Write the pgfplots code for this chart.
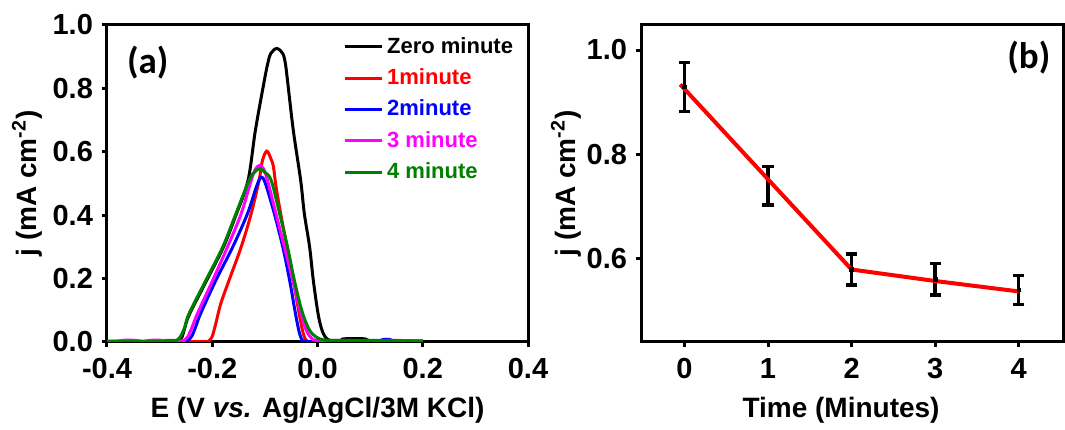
\documentclass[border=0pt]{standalone}
\usepackage{pgfplots}
\pgfplotsset{compat=1.18}
\usepackage{fontspec}
\setmainfont{Liberation Sans}
\newfontfamily\carlito{Carlito}
\definecolor{dgreen}{RGB}{0,128,0}
\definecolor{mag}{RGB}{255,0,255}
\begin{document}
\begin{tikzpicture}
\path (0,0) rectangle (532.5pt,210.5pt);
\pgfplotsset{
  every axis/.append style={
    scale only axis,
    axis line style={line width=1.5pt},
    tick pos=left, tick align=outside,
    major tick length=2.5pt,
    every tick/.style={line width=1.5pt, black},
    /pgf/number format/assume math mode=true,
    tick label style={font=\fontsize{14.5}{16}\selectfont\bfseries},
    xticklabel style={yshift=-2pt},
    yticklabel style={xshift=-1pt},
  }
}
% ---------------- panel (a)
\begin{axis}[
  at={(53.5pt,39.5pt)}, anchor=south west,
  width=210.5pt, height=158.5pt,
  xmin=-0.4, xmax=0.4, ymin=0, ymax=1.0,
  xtick={-0.4,-0.2,0,0.2,0.4}, ytick={0,0.2,0.4,0.6,0.8,1.0},
  xticklabel style={/pgf/number format/.cd, fixed, fixed zerofill, precision=1},
  yticklabel style={/pgf/number format/.cd, fixed, fixed zerofill, precision=1},
  xlabel={E (V \textit{vs.} Ag/AgCl/3M KCl)},
  ylabel={j (mA cm\textsuperscript{-2})},
  every axis x label/.style={at={(axis description cs:0.5,-0.2145)}, anchor=center, font=\fontsize{14}{16}\selectfont\bfseries},
  every axis y label/.style={at={(axis description cs:-0.19,0.5)}, anchor=center, rotate=90, font=\fontsize{14}{16}\selectfont\bfseries},
  legend cell align=left,
  legend style={draw=none, fill=none, at={(0.56,0.975)}, anchor=north west,
    font=\fontsize{11}{13}\selectfont\bfseries, inner sep=0pt,
    row sep=2.2pt},
  legend image code/.code={\draw[#1, line width=1.5pt] (0pt,0pt) -- (18.5pt,0pt);},
  every axis plot/.append style={line width=1.5pt, smooth, tension=0.55, mark=none},
]
\addplot[black] coordinates {
(-0.400,0.002) (-0.350,0.002) (-0.300,0.002) (-0.275,0.002) (-0.266,0.004)
(-0.258,0.014) (-0.252,0.045) (-0.244,0.085) (-0.212,0.190) (-0.180,0.295) (-0.155,0.400) (-0.132,0.510)
(-0.118,0.668) (-0.101,0.825) (-0.0946,0.878) (-0.0888,0.910) (-0.0775,0.926)
(-0.066,0.910) (-0.061,0.878) (-0.057,0.825) (-0.046,0.668) (-0.032,0.510)
(-0.025,0.405) (-0.015,0.300) (-0.008,0.195) (0.001,0.090) (0.008,0.040)
(0.015,0.015) (0.022,0.006) (0.030,0.004) (0.045,0.005) (0.050,0.010)
(0.090,0.010) (0.100,0.004) (0.150,0.003) (0.200,0.002)};
\addlegendentry{Zero minute}
\addplot[red] coordinates {
(-0.400,0.001) (-0.300,0.001) (-0.290,0.005) (-0.270,0.005) (-0.250,0.002)
(-0.212,0.001) (-0.206,0.004) (-0.200,0.018) (-0.193,0.060) (-0.184,0.120) (-0.168,0.195)
(-0.145,0.300) (-0.126,0.405) (-0.111,0.510) (-0.105,0.570) (-0.0966,0.602)
(-0.089,0.580) (-0.0838,0.553) (-0.0787,0.489) (-0.070,0.405) (-0.058,0.300)
(-0.046,0.195) (-0.036,0.100) (-0.029,0.040) (-0.024,0.012) (-0.018,0.002) (0.000,0.001)
(0.100,0.001) (0.200,0.001)};
\addlegendentry{\textcolor{red}{1minute}}
\addplot[blue] coordinates {
(-0.400,0.002) (-0.380,0.002) (-0.300,0.001) (-0.255,0.001) (-0.247,0.004)
(-0.239,0.018) (-0.231,0.050) (-0.222,0.090) (-0.193,0.195) (-0.161,0.300) (-0.133,0.405)
(-0.116,0.490) (-0.107,0.520) (-0.099,0.500) (-0.082,0.405) (-0.066,0.300)
(-0.053,0.195) (-0.043,0.100) (-0.036,0.040) (-0.031,0.012) (-0.025,0.002) (0.000,0.001)
(0.060,0.002) (0.110,0.002) (0.125,0.008) (0.137,0.008) (0.150,0.002)
(0.190,0.002) (0.200,0.004)};
\addlegendentry{\textcolor{blue}{2minute}}
\addplot[mag] coordinates {
(-0.400,0.002) (-0.380,0.003) (-0.365,0.006) (-0.345,0.005) (-0.330,0.002)
(-0.320,0.005) (-0.300,0.006) (-0.285,0.002) (-0.262,0.002) (-0.254,0.005)
(-0.246,0.018) (-0.238,0.048) (-0.228,0.090) (-0.199,0.195) (-0.171,0.300) (-0.145,0.405)
(-0.126,0.510) (-0.118,0.545) (-0.110,0.557) (-0.102,0.545) (-0.095,0.510)
(-0.079,0.405) (-0.063,0.300) (-0.047,0.195) (-0.033,0.100) (-0.022,0.040)
(-0.012,0.013) (0.000,0.005) (0.050,0.005) (0.100,0.004) (0.150,0.005)
(0.200,0.003)};
\addlegendentry{\textcolor{mag}{3 minute}}
\addplot[dgreen] coordinates {
(-0.400,0.001) (-0.300,0.001) (-0.278,0.002) (-0.268,0.005) (-0.260,0.018)
(-0.252,0.048) (-0.244,0.090) (-0.212,0.195) (-0.180,0.300) (-0.155,0.405) (-0.130,0.510)
(-0.120,0.535) (-0.110,0.547) (-0.100,0.535) (-0.088,0.510) (-0.072,0.405)
(-0.057,0.300) (-0.044,0.195) (-0.030,0.100) (-0.016,0.040) (-0.002,0.015)
(0.015,0.006) (0.050,0.005) (0.100,0.005) (0.150,0.004) (0.200,0.003)};
\addlegendentry{\textcolor{dgreen}{4 minute}}
\node[font=\carlito\fontsize{18.5}{20}\selectfont\bfseries] at (rel axis cs:0.097,0.883) {(a)};
\end{axis}
% ---------------- panel (b)
\begin{axis}[
  at={(320.5pt,39.5pt)}, anchor=south west,
  width=211pt, height=158.5pt,
  xmin=-0.52, xmax=4.53, ymin=0.44, ymax=1.048,
  xtick={0,1,2,3,4}, ytick={0.6,0.8,1.0},
  yticklabel style={/pgf/number format/.cd, fixed, fixed zerofill, precision=1},
  xlabel={Time (Minutes)},
  ylabel={j (mA cm\textsuperscript{-2})},
  every axis x label/.style={at={(axis description cs:0.474,-0.2145)}, anchor=center, font=\fontsize{14}{16}\selectfont\bfseries},
  every axis y label/.style={at={(axis description cs:-0.178,0.5)}, anchor=center, rotate=90, font=\fontsize{14}{16}\selectfont\bfseries},
]
\addplot[black, draw=none, mark=square*, mark size=0.9pt,
  error bars/.cd, y dir=both, y explicit,
  error bar style={line width=1.7pt, black},
  error mark options={rotate=90, mark size=2.8pt, line width=1.7pt, black}]
  coordinates {
  (0,0.929) +- (0,0.047)
  (1,0.740) +- (0,0.037)
  (2,0.579) +- (0,0.030)
  (3,0.560) +- (0,0.030)
  (4,0.540) +- (0,0.028)
};
\addplot[red, line width=2pt, mark=none] coordinates {
  (-0.05,0.934) (1,0.752) (2,0.579) (3,0.557) (4,0.537)
};
\node[font=\carlito\fontsize{18.5}{20}\selectfont\bfseries] at (rel axis cs:0.919,0.896) {(b)};
\end{axis}
\end{tikzpicture}
\end{document}
